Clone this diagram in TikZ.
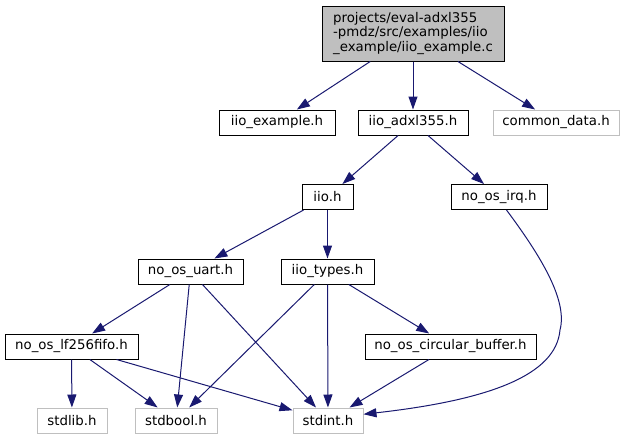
\documentclass[tikz,border=0pt]{standalone}
\usepackage{fontspec}
\setmainfont{DejaVu Sans}
\usepackage{tikz}
\usetikzlibrary{positioning, arrows.meta, calc}
\usepackage{xcolor}
\definecolor{dgEdge}{HTML}{191970}
\definecolor{dgGrey}{HTML}{BFBFBF}

\begin{document}
\begin{tikzpicture}[x=1pt, y=-1pt,
    font={\fontsize{13.33}{14.3}\selectfont},
    hfile/.style={draw=black, line width=1pt, minimum height=25pt, inner sep=0pt},
    sysfile/.style={draw=dgGrey, line width=1pt, minimum height=25pt, inner sep=0pt},
    edge/.style={draw=dgEdge, line width=1pt, -{Triangle[length=13pt, width=9pt]}}]
        \useasboundingbox (0,0) rectangle (625,440);
        % Fichero raíz
        \node[hfile, fill=dgGrey, minimum width=182pt, minimum height=55pt, align=left]
          (root) at (413,33.5) {projects/eval-adxl355\\-pmdz/src/examples/iio\\\_example/iio\_example.c};
        % Cabeceras del proyecto
        \foreach \nm/\x/\y/\w/\lbl in {iioex/277/122.5/116/iio\_example.h,
            adxl/413/122.5/110/iio\_adxl355.h,
            iio/327.5/197/51/iio.h,
            irq/499/197/96/no\_os\_irq.h,
            uart/190.5/271.5/105/no\_os\_uart.h,
            types/327.5/271.5/93/iio\_types.h,
            fifo/71.5/346.5/133/no\_os\_lf256fifo.h,
            cbuf/450.5/346.5/171/no\_os\_circular\_buffer.h} {
          \node[hfile, minimum width=\w pt] (\nm) at (\x,\y) {\lbl};
        }
        % Cabeceras del sistema (gris)
        \foreach \nm/\x/\y/\w/\lbl in {common/556/122.5/126/common\_data.h,
            stdlib/72/420.5/70/stdlib.h,
            stdbool/176/420.5/82/stdbool.h,
            stdint/328/420.5/70/stdint.h} {
          \node[sysfile, minimum width=\w pt] (\nm) at (\x,\y) {\lbl};
        }
        % Dependencias
        \foreach \a/\b in {root/iioex, root/adxl, root/common, adxl/iio, adxl/irq,
            iio/uart, iio/types, uart/fifo, uart/stdbool, uart/stdint,
            types/stdbool, types/stdint, types/cbuf, fifo/stdlib, fifo/stdbool,
            fifo/stdint, cbuf/stdint} {
          \draw[edge] (\a) -- (\b);
        }
        % no_os_irq.h -> stdint.h (curva)
        \draw[edge] (irq.-60) .. controls (540,255) and (568,300) .. (560,330)
          .. controls (556,375) and (490,400) .. (stdint.10);
      \end{tikzpicture}
\end{document}
